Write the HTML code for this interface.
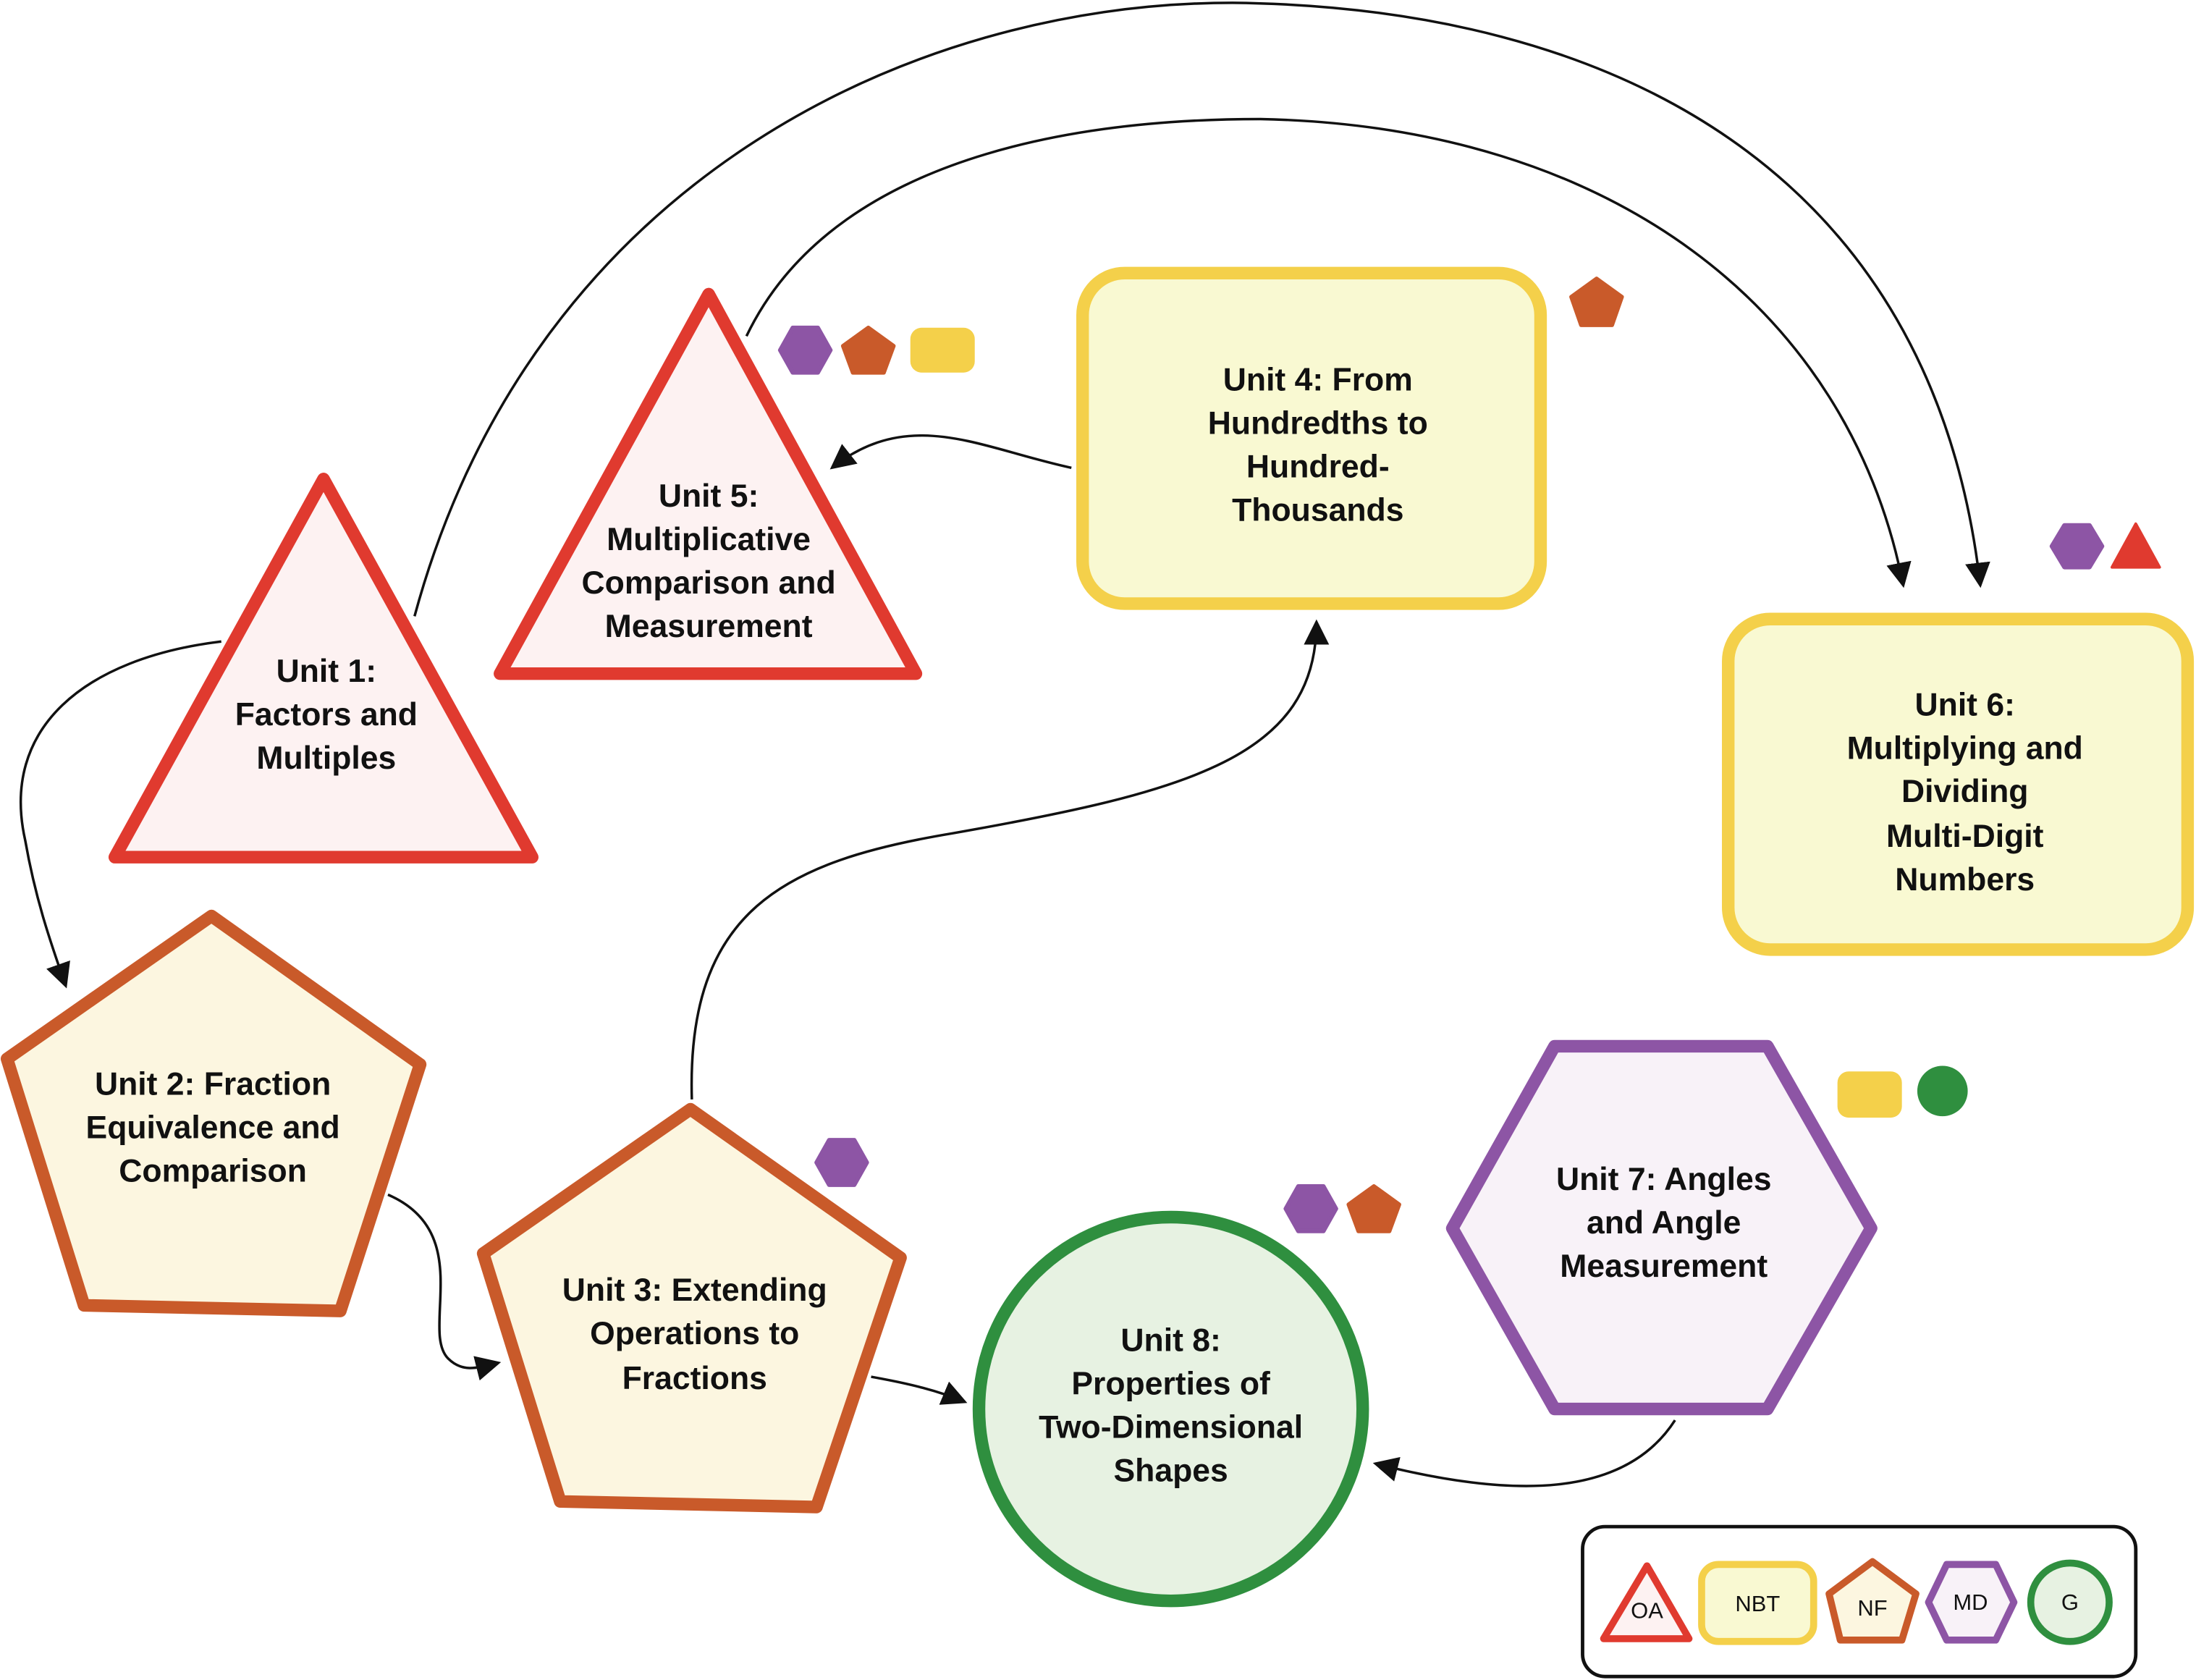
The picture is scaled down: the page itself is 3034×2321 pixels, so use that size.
<!DOCTYPE html>
<html><head><meta charset="utf-8"><style>
html,body{margin:0;padding:0;background:#fff;}
svg{display:block;}
.t{font-family:"Liberation Sans",sans-serif;font-weight:bold;font-size:23px;fill:#111;text-anchor:middle;dominant-baseline:central;}
.l{font-family:"Liberation Sans",sans-serif;font-size:16px;fill:#111;text-anchor:middle;dominant-baseline:central;}
.c{fill:none;stroke:#111;stroke-width:1.8;marker-end:url(#ah);}
</style></head><body>
<svg width="3034" height="2321" viewBox="0 0 1568 1199.5" xmlns="http://www.w3.org/2000/svg">
<defs><marker id="ah" markerWidth="10" markerHeight="10" refX="8" refY="5" orient="auto" markerUnits="userSpaceOnUse" viewBox="0 0 10 10"><path d="M0,0 L10,5 L0,10 z" fill="#111"/></marker>
<marker id="ah2" viewBox="0 0 10 10" refX="9" refY="5" markerWidth="18" markerHeight="18" orient="auto" markerUnits="userSpaceOnUse"><path d="M0,0 L10,5 L0,10 z" fill="#111"/></marker></defs>
<style>.c{marker-end:url(#ah2)!important;}</style>

<!-- connectors -->
<path class="c" d="M158,458 C60,470 0,520 18,600 C25,640 35,670 47,704"/>
<path class="c" d="M296,440 C380,130 650,2 880,2 C1150,5 1380,120 1414,418"/>
<path class="c" d="M533,240 C600,100 800,85 900,85 C1150,90 1320,220 1359,418"/>
<path class="c" d="M765,334 C700,320 650,290 594,334"/>
<path class="c" d="M494,785 C490,650 560,615 680,595 C850,565 940,540 940,444"/>
<path class="c" d="M277,853 C340,880 300,950 320,970 C330,980 340,977 356,973"/>
<path class="c" d="M622,983 C650,988 670,993 689,1001"/>
<path class="c" d="M1196,1014 C1160,1070 1080,1070 982,1045"/>

<!-- shapes -->
<g stroke-width="9" stroke-linejoin="round">
<polygon points="231,342 82,612 380,612" fill="#fdf2f2" stroke="#e03a2f"/>
<polygon points="506,210 357,481 654,481" fill="#fdf2f2" stroke="#e03a2f"/>
<rect x="773" y="195" width="327" height="236" rx="30" fill="#f9f9d2" stroke="#f4d04a"/>
<rect x="1234" y="442" width="328" height="236" rx="30" fill="#f9f9d2" stroke="#f4d04a"/>
<polygon points="151,654 300,760 243,936 60,932 5,756" fill="#fcf6e0" stroke="#c95a2a"/>
<polygon points="493,792 643,898 583,1076 400,1072 345,895" fill="#fcf6e0" stroke="#c95a2a"/>
<circle cx="836" cy="1006" r="137" fill="#e7f2e2" stroke="#2f8f3f"/>
<polygon points="1037,877 1110,747 1262,747 1336,877 1262,1006 1110,1006" fill="#f8f2f8" stroke="#8d55a5"/>
</g>

<!-- small icons -->
<g stroke-linejoin="round">
<polygon points="566,234 584,234 593,250 584,266 566,266 557,250" fill="#8d55a5" stroke="#8d55a5" stroke-width="3"/>
<polygon points="620,234 638,247 631,266 609,266 602,247" fill="#c95a2a" stroke="#c95a2a" stroke-width="3"/>
<rect x="650" y="234" width="46" height="32" rx="8" fill="#f4d04a"/>
<polygon points="1140,199 1158,212 1151,232 1129,232 1122,212" fill="#c95a2a" stroke="#c95a2a" stroke-width="3"/>
<polygon points="1474,375 1492,375 1501,390 1492,405 1474,405 1465,390" fill="#8d55a5" stroke="#8d55a5" stroke-width="3"/>
<polygon points="1525,374 1542,405 1508,405" fill="#e03a2f" stroke="#e03a2f" stroke-width="2"/>
<rect x="1312" y="765" width="46" height="33" rx="8" fill="#f4d04a"/>
<circle cx="1387" cy="779" r="18" fill="#2f8f3f"/>
<polygon points="592,814 610,814 619,830 610,846 592,846 583,830" fill="#8d55a5" stroke="#8d55a5" stroke-width="3"/>
<polygon points="927,847 945,847 954,863 945,879 927,879 918,863" fill="#8d55a5" stroke="#8d55a5" stroke-width="3"/>
<polygon points="981,847 999,860 992,879 970,879 963,860" fill="#c95a2a" stroke="#c95a2a" stroke-width="3"/>
</g>

<!-- labels -->
<text class="t" x="233"><tspan x="233" y="479">Unit 1:</tspan><tspan x="233" y="510">Factors and</tspan><tspan x="233" y="541">Multiples</tspan></text>
<text class="t"><tspan x="506" y="354">Unit 5:</tspan><tspan x="506" y="385">Multiplicative</tspan><tspan x="506" y="416">Comparison and</tspan><tspan x="506" y="447">Measurement</tspan></text>
<text class="t"><tspan x="941" y="271">Unit 4: From</tspan><tspan x="941" y="302">Hundredths to</tspan><tspan x="941" y="333">Hundred-</tspan><tspan x="941" y="364">Thousands</tspan></text>
<text class="t"><tspan x="1403" y="503">Unit 6:</tspan><tspan x="1403" y="534">Multiplying and</tspan><tspan x="1403" y="565">Dividing</tspan><tspan x="1403" y="597">Multi-Digit</tspan><tspan x="1403" y="628">Numbers</tspan></text>
<text class="t"><tspan x="152" y="774">Unit 2: Fraction</tspan><tspan x="152" y="805">Equivalence and</tspan><tspan x="152" y="836">Comparison</tspan></text>
<text class="t"><tspan x="496" y="921">Unit 3: Extending</tspan><tspan x="496" y="952">Operations to</tspan><tspan x="496" y="984">Fractions</tspan></text>
<text class="t"><tspan x="836" y="957">Unit 8:</tspan><tspan x="836" y="988">Properties of</tspan><tspan x="836" y="1019">Two-Dimensional</tspan><tspan x="836" y="1050">Shapes</tspan></text>
<text class="t"><tspan x="1188" y="842">Unit 7: Angles</tspan><tspan x="1188" y="873">and Angle</tspan><tspan x="1188" y="904">Measurement</tspan></text>

<!-- legend -->
<rect x="1130" y="1090" width="395" height="107" rx="16" fill="#fff" stroke="#111" stroke-width="2.5"/>
<g stroke-width="5" stroke-linejoin="round">
<polygon points="1176,1118 1206,1170 1145,1170" fill="#fdf2f2" stroke="#e03a2f"/>
<rect x="1215" y="1117" width="80" height="55" rx="12" fill="#f9f9d2" stroke="#f4d04a"/>
<polygon points="1337,1115 1368,1138 1358,1171 1314,1171 1306,1138" fill="#fcf6e0" stroke="#c95a2a"/>
<polygon points="1390,1117 1425,1117 1438,1144 1425,1171 1390,1171 1377,1144" fill="#f8f2f8" stroke="#8d55a5"/>
<ellipse cx="1478" cy="1144" rx="28" ry="28" fill="#e7f2e2" stroke="#2f8f3f"/>
</g>
<text class="l" x="1176" y="1150">OA</text>
<text class="l" x="1255" y="1145">NBT</text>
<text class="l" x="1337" y="1148">NF</text>
<text class="l" x="1407" y="1144">MD</text>
<text class="l" x="1478" y="1144">G</text>
</svg>
</body></html>
